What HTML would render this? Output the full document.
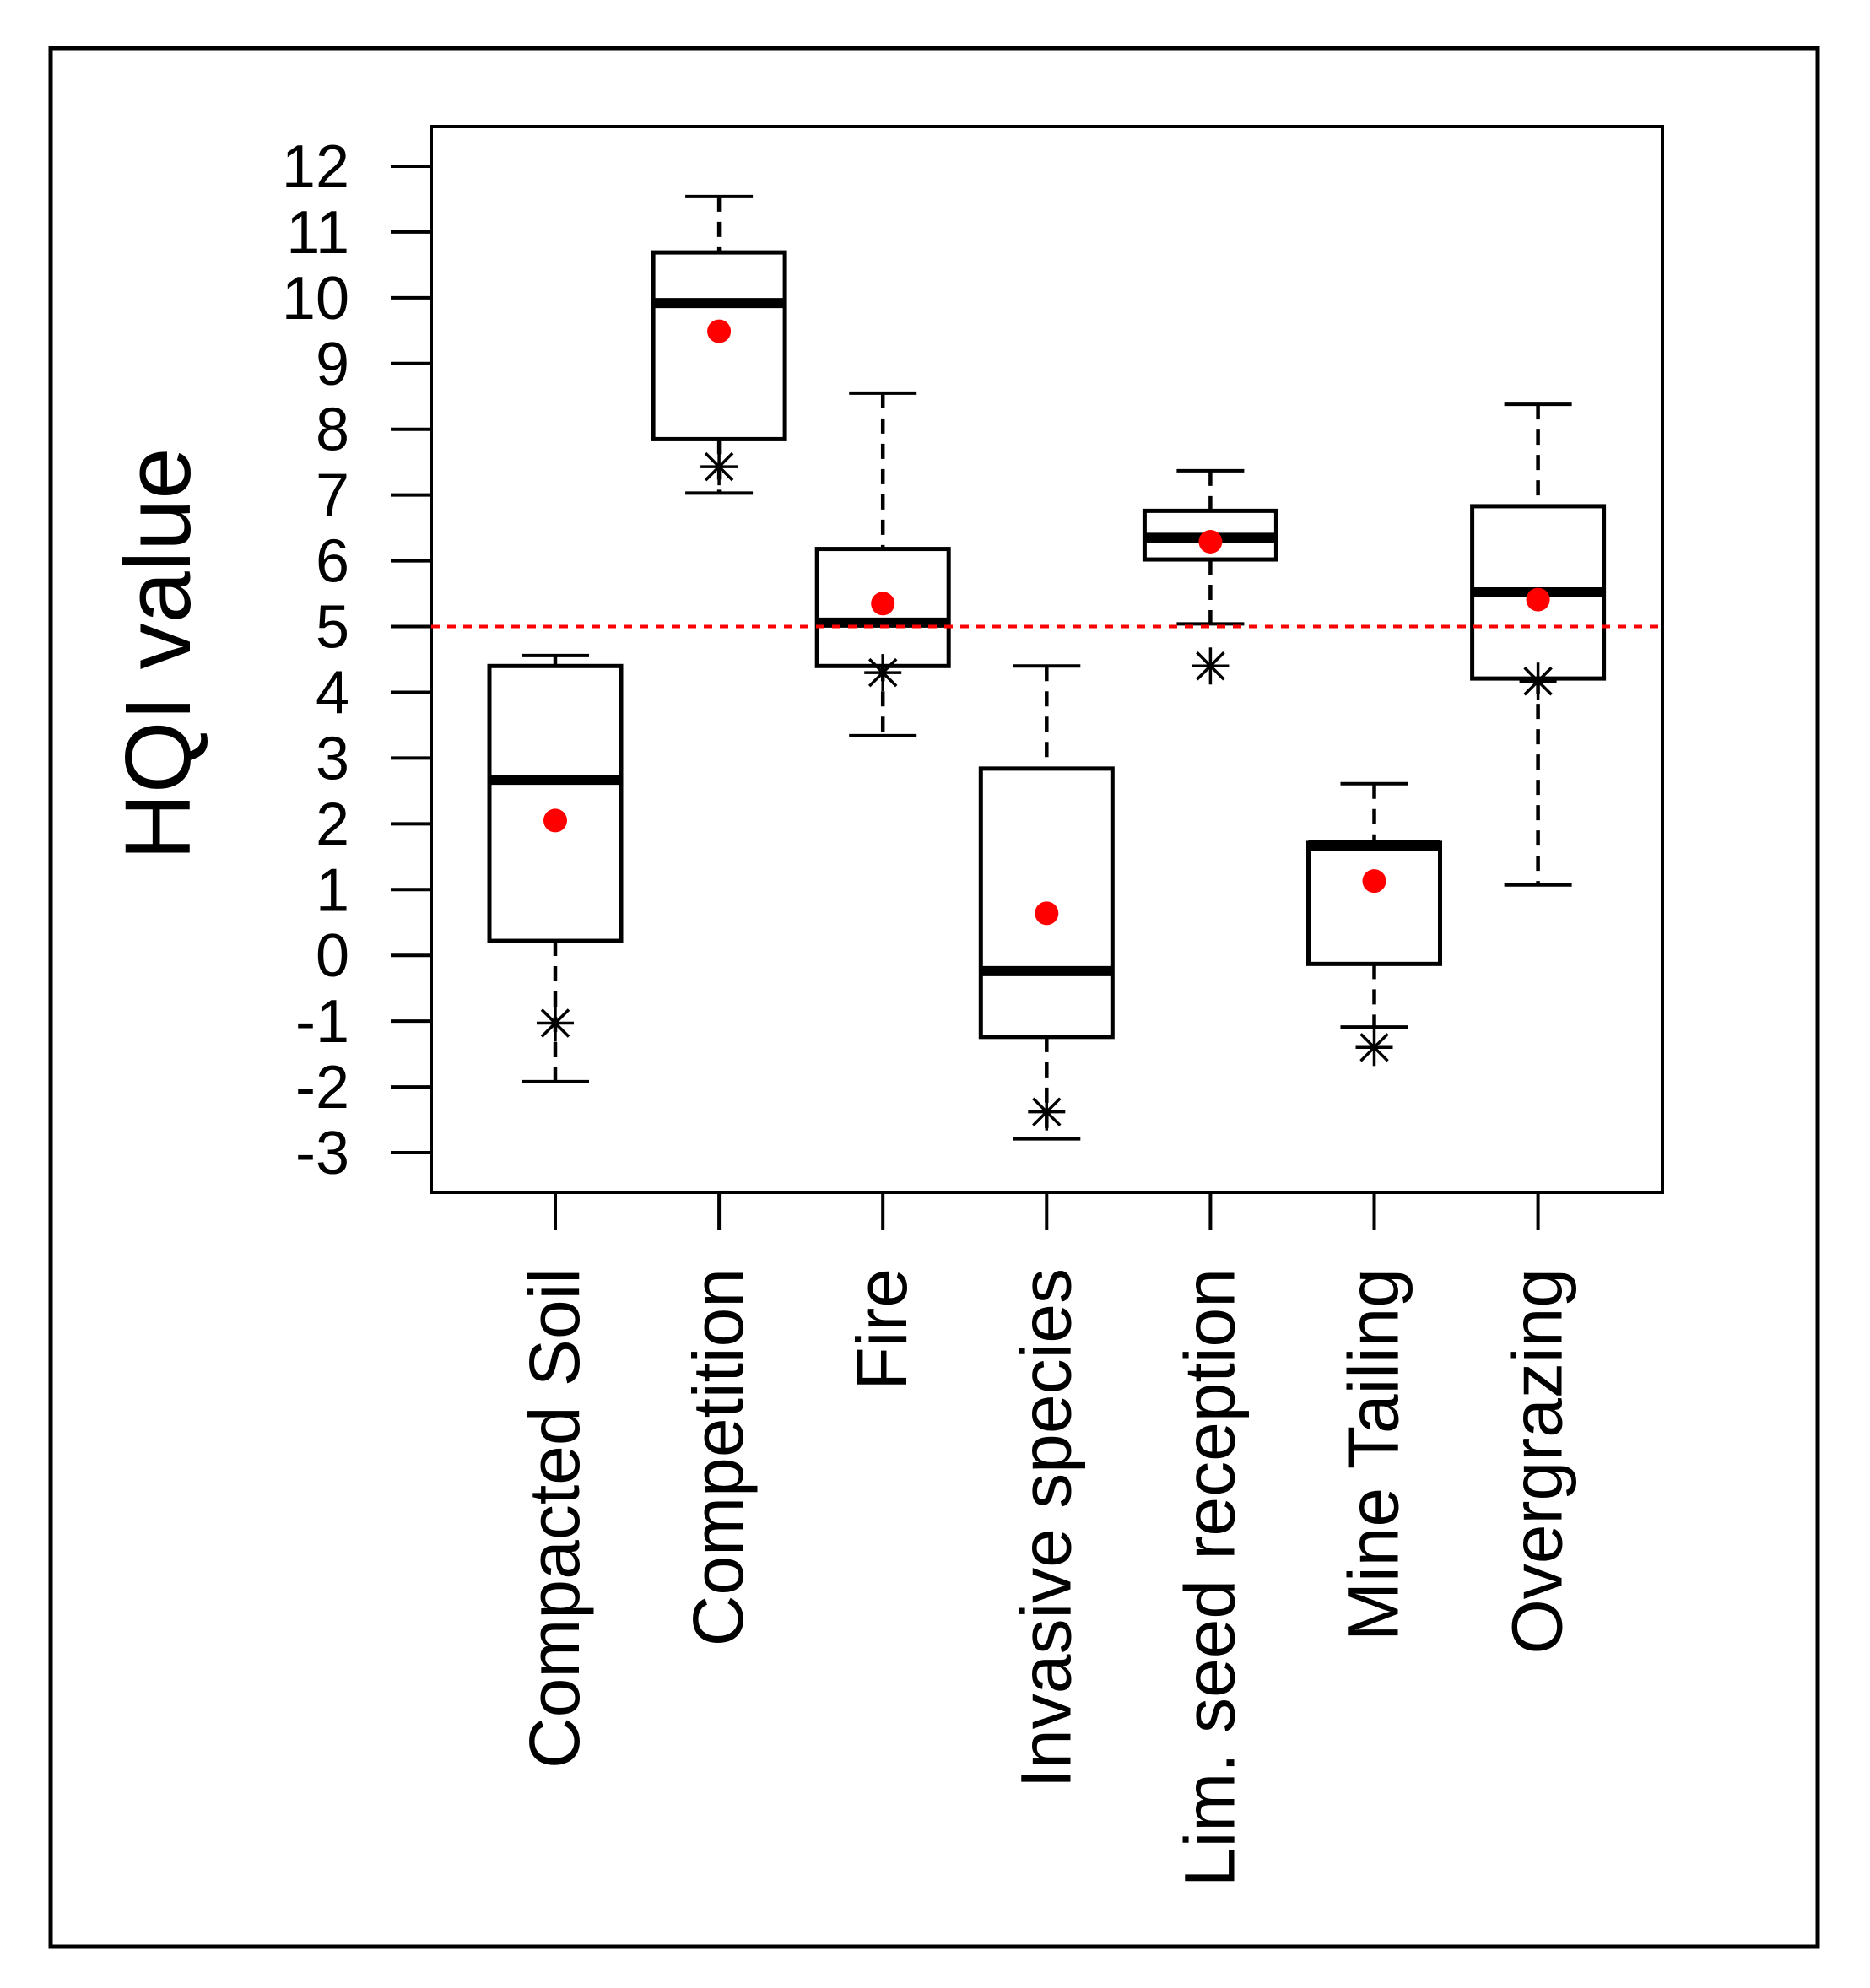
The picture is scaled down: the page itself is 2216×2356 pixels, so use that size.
<!DOCTYPE html>
<html><head><meta charset="utf-8"><style>
html,body{margin:0;padding:0;background:#fff;}
svg{display:block;font-family:"Liberation Sans",Arial,sans-serif;}
</style></head><body>
<svg id="chart" width="2216" height="2356" viewBox="0 0 2216 2356" xmlns="http://www.w3.org/2000/svg">
<rect x="0" y="0" width="2216" height="2356" fill="#fff"/>
<rect x="60" y="57" width="2094" height="2250" fill="none" stroke="#000" stroke-width="5"/>
<rect x="511" y="150" width="1459" height="1263" fill="none" stroke="#000" stroke-width="4"/>
<text x="0" y="0" transform="translate(225,775) rotate(-90)" text-anchor="middle" font-size="110">HQI value</text>
<g id="yaxis"></g>
<g id="marks"></g>
<g id="xaxis"></g>
</svg>
<script>
const categories = ["Compacted Soil","Competition","Fire","Invasive species","Lim. seed reception","Mine Tailing","Overgrazing"];
const whiskerHigh = [4.56, 11.54, 8.55, 4.40, 7.37, 2.61, 8.38];
const q3 = [4.40, 10.69, 6.18, 2.84, 6.76, 1.71, 6.83];
const medians = [2.67, 9.92, 5.06, -0.24, 6.35, 1.67, 5.52];
const q1 = [0.22, 7.85, 4.40, -1.24, 6.02, -0.13, 4.21];
const whiskerLow = [-1.92, 7.03, 3.34, -2.79, 5.04, -1.09, 1.07];
const means = [2.05, 9.49, 5.35, 0.64, 6.29, 1.13, 5.41];
const stars = [-1.03, 7.43, 4.30, -2.38, 4.40, -1.40, 4.17];
const yTicks = [-3,-2,-1,0,1,2,3,4,5,6,7,8,9,10,11,12];
const refValue = 5;

const NS = "http://www.w3.org/2000/svg";
const y = v => 197 + (12 - v) * (1366 - 197) / 15;
const x = i => 658 + i * 194.1;
function mk(tag, attrs, parent) {
  const e = document.createElementNS(NS, tag);
  for (const k in attrs) e.setAttribute(k, attrs[k]);
  parent.appendChild(e);
  return e;
}
const ya = document.getElementById('yaxis');
const mg = document.getElementById('marks');
const xa = document.getElementById('xaxis');

yTicks.forEach(t => {
  const l = mk('line', {x1: 463, x2: 511, y1: y(t), y2: y(t), stroke: '#000', 'stroke-width': 4}, ya);
  
  
  const tx = mk('text', {x: 414, y: y(t) + 25, 'text-anchor': 'end', 'font-size': 72}, ya);
  tx.textContent = String(t);
  
  
});

categories.forEach((c, i) => {
  const cx = x(i), hw = 78;
  const g = mk('g', {}, mg);
  
  
  const w1 = mk('line', {x1: cx, x2: cx, y1: y(whiskerHigh[i]), y2: y(q3[i]), stroke: '#000', 'stroke-width': 4.5, 'stroke-dasharray': '18,12'}, g);
  
  
  const w2 = mk('line', {x1: cx, x2: cx, y1: y(q1[i]), y2: y(whiskerLow[i]), stroke: '#000', 'stroke-width': 4.5, 'stroke-dasharray': '18,12'}, g);
  
  
  const c1 = mk('line', {x1: cx - 40, x2: cx + 40, y1: y(whiskerHigh[i]), y2: y(whiskerHigh[i]), stroke: '#000', 'stroke-width': 4}, g);
  
  
  const c2 = mk('line', {x1: cx - 40, x2: cx + 40, y1: y(whiskerLow[i]), y2: y(whiskerLow[i]), stroke: '#000', 'stroke-width': 4}, g);
  
  
  const b = mk('rect', {x: cx - hw, y: y(q3[i]), width: 2 * hw, height: y(q1[i]) - y(q3[i]), fill: '#fff', stroke: '#000', 'stroke-width': 5}, g);
  
  
  const m = mk('line', {x1: cx - hw, x2: cx + hw, y1: y(medians[i]), y2: y(medians[i]), stroke: '#000', 'stroke-width': 12}, g);
  
  
  const sg = mk('g', {stroke: '#000', 'stroke-width': 3.5}, g);
  
  
  const sy = y(stars[i]), r = 22;
  mk('line', {x1: cx, x2: cx, y1: sy - r, y2: sy + r}, sg);
  mk('line', {x1: cx - r, x2: cx + r, y1: sy, y2: sy}, sg);
  mk('line', {x1: cx - 16, x2: cx + 16, y1: sy - 16, y2: sy + 16}, sg);
  mk('line', {x1: cx - 16, x2: cx + 16, y1: sy + 16, y2: sy - 16}, sg);
  const d = mk('circle', {cx: cx, cy: y(means[i]), r: 14, fill: '#ff0000'}, g);
  
  

  const t = mk('line', {x1: cx, x2: cx, y1: 1413, y2: 1458, stroke: '#000', 'stroke-width': 4}, xa);
  
  
  const lb = mk('text', {x: 0, y: 0, transform: 'translate(' + (cx + 28) + ',1503) rotate(-90)', 'text-anchor': 'end', 'font-size': 84}, xa);
  lb.textContent = c;
  
  
});

const ref = mk('line', {x1: 511, x2: 1970, y1: y(refValue), y2: y(refValue), stroke: '#ff0000', 'stroke-width': 4, 'stroke-dasharray': '10,9'}, mg);


</script>
</body></html>
